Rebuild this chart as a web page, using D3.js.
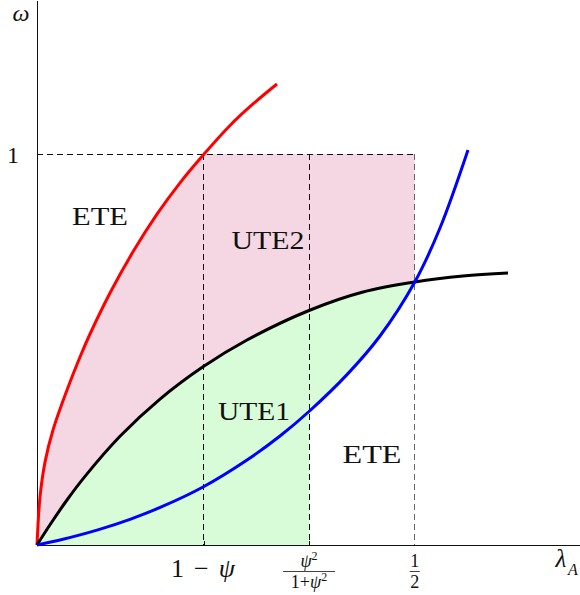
<!DOCTYPE html>
<html>
<head>
<meta charset="utf-8">
<script src="https://cdn.jsdelivr.net/npm/d3@7"></script>
<style>
  body { margin: 0; background: white; }
  text { font-family: "Liberation Serif", "DejaVu Serif", serif; fill: #111; }
</style>
</head>
<body>
<div class="container"></div>
<script>
// curve points (lambda_A, omega)
const redLambda   = [0, 0.00397, 0.01059, 0.02118, 0.03971, 0.05691, 0.07015, 0.09662, 0.12706, 0.15882, 0.18926, 0.21971, 0.25544, 0.28588, 0.31765]
const redOmega    = [0, 0.1228, 0.2120, 0.2941, 0.3964, 0.4809, 0.5397, 0.6446, 0.7499, 0.8461, 0.9264, 0.9968, 1.0730, 1.1280, 1.1791]

const blackLambda = [0, 0.01721, 0.03971, 0.06353, 0.10985, 0.16279, 0.21971, 0.27794, 0.36, 0.43147, 0.5, 0.56382, 0.62338]
const blackOmega  = [0, 0.0517, 0.1151, 0.1755, 0.2780, 0.3732, 0.4558, 0.5243, 0.5998, 0.6471, 0.6727, 0.6880, 0.6957]

const blueLambda  = [0, 0.03441, 0.07941, 0.12309, 0.16676, 0.21971, 0.27794, 0.32162, 0.36, 0.41029, 0.45397, 0.5, 0.53338, 0.57044]
const blueOmega   = [0, 0.0148, 0.0381, 0.0657, 0.0992, 0.1483, 0.2174, 0.2788, 0.3415, 0.4358, 0.5346, 0.6727, 0.8108, 1.0103]

// special values on the axes
const oneMinusPsi = 0.221
const psiFrac = 0.36
const half = 0.5
const omegaOne = 1

const regionLabels = ["ETE", "UTE2", "UTE1", "ETE"]

const pts = (xs, ys) => xs.map((x, i) => ({l: x, w: ys[i]}))
const red = pts(redLambda, redOmega)
const black = pts(blackLambda, blackOmega)
const blue = pts(blueLambda, blueOmega)

const width = 580
const height = 595

const svg = d3.select(".container")
    .append("svg")
    .attr("width", width)
    .attr("height", height)

const xScale = d3.scaleLinear()
    .domain([0, 0.72])
    .range([37, 581])

const yScale = d3.scaleLinear()
    .domain([0, 1.394])
    .range([545, 0])

const curve = d3.curveCatmullRom.alpha(0.5)

const line = d3.line()
    .x(d => xScale(d.l))
    .y(d => yScale(d.w))
    .curve(curve)

const area = d3.area()
    .x(d => xScale(d.l))
    .y0(yScale(0))
    .y1(d => yScale(d.w))
    .curve(curve)

// clip rectangles in data units
const defs = svg.append("defs")
function clipRect(id, l0, l1, w0, w1) {
    defs.append("clipPath").attr("id", id)
        .append("rect")
        .attr("x", xScale(l0)).attr("width", xScale(l1) - xScale(l0))
        .attr("y", yScale(w1)).attr("height", yScale(w0) - yScale(w1))
}
clipRect("clip-fill", 0, half, 0, omegaOne)
clipRect("clip-white", psiFrac, half, 0, omegaOne)

// Pink: right of the red curve, inside [0, 1/2] x [0, 1]
const redEnd = red[red.length - 1]
svg.append("path")
    .attr("d", line(red)
        + `L${xScale(half)},${yScale(redEnd.w)}L${xScale(half)},${yScale(0)}Z`)
    .attr("fill", "rgb(244,215,226)")
    .attr("clip-path", "url(#clip-fill)")

// Green: under the black curve
svg.append("path")
    .attr("d", area(black))
    .attr("fill", "rgb(216,252,216)")
    .attr("clip-path", "url(#clip-fill)")

// White: under the blue curve between psi^2/(1+psi^2) and 1/2
svg.append("path")
    .attr("d", area(blue))
    .attr("fill", "white")
    .attr("clip-path", "url(#clip-white)")

// Dashed guides
const dashed = svg.append("g")
    .attr("fill", "none")
    .attr("stroke-width", 1)
    .attr("stroke-dasharray", "6,4")
    .attr("shape-rendering", "crispEdges")

dashed.append("line")
    .attr("x1", xScale(0)).attr("x2", xScale(half))
    .attr("y1", yScale(omegaOne)).attr("y2", yScale(omegaOne))
    .attr("stroke", "#111")

;[oneMinusPsi, psiFrac, half].forEach((v, i) => {
    dashed.append("line")
        .attr("x1", xScale(v)).attr("x2", xScale(v))
        .attr("y1", yScale(omegaOne)).attr("y2", yScale(0))
        .attr("stroke", i == 2 ? "#666" : "#111")
})

// Axes
const xAxis = d3.axisBottom(xScale)
    .tickValues([oneMinusPsi, psiFrac])
    .tickSize(-4)
    .tickFormat("")
    .tickSizeOuter(0)

const yAxis = d3.axisLeft(yScale)
    .tickValues([])
    .tickSizeOuter(0)

svg.append("g")
    .attr("transform", `translate(0, ${yScale(0)})`)
    .attr("shape-rendering", "crispEdges")
    .call(xAxis)
    .call(g => g.select(".domain").attr("stroke", "#111"))

svg.append("g")
    .attr("transform", `translate(${xScale(0)}, 0)`)
    .attr("shape-rendering", "crispEdges")
    .call(yAxis)
    .call(g => g.select(".domain").attr("stroke", "#111"))

// Curves
const curves = [
    {data: red, color: "#ff0000"},
    {data: black, color: "#000000"},
    {data: blue, color: "#0000ff"}
]
svg.selectAll(".curve")
    .data(curves)
    .enter()
    .append("path")
    .attr("class", "curve")
    .attr("d", d => line(d.data))
    .attr("fill", "none")
    .attr("stroke", d => d.color)
    .attr("stroke-width", 3)

// Axis labels
svg.append("text")
    .attr("x", 21).attr("y", 21)
    .attr("text-anchor", "middle")
    .attr("font-size", 24)
    .attr("font-style", "italic")
    .text("ω")

svg.append("text")
    .attr("x", 19).attr("y", 163)
    .attr("text-anchor", "end")
    .attr("font-size", 24)
    .text("1")

svg.append("text")
    .attr("x", 561).attr("y", 567)
    .attr("text-anchor", "middle")
    .attr("font-size", 25)
    .attr("font-style", "italic")
    .text("λ")
svg.append("text")
    .attr("x", 573).attr("y", 575)
    .attr("text-anchor", "middle")
    .attr("font-size", 16)
    .attr("font-style", "italic")
    .text("A")

svg.append("text")
    .attr("x", 171).attr("y", 577)
    .attr("font-size", 26)
    .attr("textLength", 64)
    .attr("lengthAdjust", "spacing")
    .html('1 − <tspan font-style="italic">ψ</tspan>')

function fraction(x, num, den, w) {
    const g = svg.append("g")
    g.append("text")
        .attr("x", x).attr("y", 567)
        .attr("text-anchor", "middle")
        .attr("font-size", 18)
        .html(num)
    g.append("line")
        .attr("x1", x - w / 2).attr("x2", x + w / 2)
        .attr("y1", 571.5).attr("y2", 571.5)
        .attr("stroke", "#111")
        .attr("stroke-width", 0.8)
    g.append("text")
        .attr("x", x).attr("y", 588)
        .attr("text-anchor", "middle")
        .attr("font-size", 18)
        .html(den)
}
fraction(xScale(psiFrac),
    '<tspan font-style="italic">ψ</tspan><tspan font-size="12" dy="-7">2</tspan>',
    '1+<tspan font-style="italic">ψ</tspan><tspan font-size="12" dy="-7">2</tspan>', 52)
fraction(xScale(half), "1", "2", 10)

// Region labels
const labelPos = [
    {x: 100, y: 225, w: 56},
    {x: 268, y: 249, w: 73},
    {x: 254, y: 420, w: 72},
    {x: 372, y: 463, w: 59}
]
svg.selectAll(".region")
    .data(regionLabels)
    .enter()
    .append("text")
    .attr("class", "region")
    .attr("x", (d, i) => labelPos[i].x - labelPos[i].w / 2)
    .attr("y", (d, i) => labelPos[i].y)
    .attr("font-size", 26)
    .attr("textLength", (d, i) => labelPos[i].w)
    .attr("lengthAdjust", "spacingAndGlyphs")
    .text(d => d)
</script>
</body>
</html>
